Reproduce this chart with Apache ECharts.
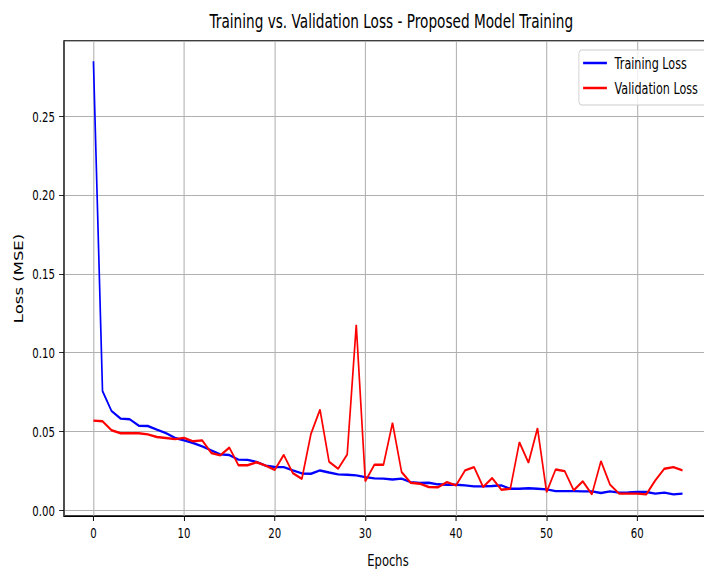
<!DOCTYPE html>
<html>
<head>
<meta charset="utf-8">
<script src="https://cdn.jsdelivr.net/npm/echarts@6/dist/echarts.min.js"></script>
<style>
html,body{margin:0;padding:0;background:#fff;}
#wrap{width:704px;height:569px;overflow:hidden;position:relative;background:#fff;}
/* the reference figure is horizontally compressed (aspect ~0.7); reproduce that */
#chart{width:1020px;height:569px;transform:scaleX(0.7);transform-origin:0 0;position:absolute;left:0;top:0;}
</style>
</head>
<body>
<div id="wrap"><div id="chart"></div></div>
<script>
var epochs = [0,1,2,3,4,5,6,7,8,9,10,11,12,13,14,15,16,17,18,19,20,21,22,23,24,25,26,27,28,29,30,31,32,33,34,35,36,37,38,39,40,41,42,43,44,45,46,47,48,49,50,51,52,53,54,55,56,57,58,59,60,61,62,63,64,65];
var trainingLoss = [0.285,0.0757,0.063,0.0582,0.0578,0.0537,0.0535,0.0512,0.049,0.0459,0.0444,0.0427,0.0406,0.038,0.0355,0.0351,0.0322,0.032,0.0307,0.0284,0.0275,0.0274,0.0253,0.0234,0.0232,0.0253,0.024,0.0228,0.0226,0.0222,0.0211,0.0203,0.0201,0.0196,0.0201,0.0179,0.0173,0.0175,0.0165,0.0162,0.0162,0.0158,0.0152,0.0152,0.0154,0.0158,0.0137,0.0137,0.014,0.0137,0.0133,0.0122,0.0122,0.0122,0.012,0.012,0.011,0.012,0.0112,0.0113,0.0116,0.0116,0.0106,0.0112,0.0101,0.0106];
var validationLoss = [0.0569,0.0565,0.0508,0.0489,0.0489,0.0489,0.0482,0.0465,0.0459,0.0452,0.046,0.0438,0.0444,0.0364,0.0349,0.0398,0.0286,0.0286,0.0305,0.0284,0.0256,0.0352,0.0236,0.02,0.0485,0.0639,0.0308,0.0264,0.0354,0.1177,0.0184,0.0289,0.0289,0.0555,0.0243,0.0175,0.0169,0.0148,0.0146,0.0179,0.0158,0.0253,0.0274,0.0148,0.0205,0.0131,0.0137,0.0432,0.0302,0.0521,0.0116,0.0259,0.0249,0.0127,0.0184,0.0101,0.0312,0.0163,0.0106,0.0106,0.0106,0.0101,0.019,0.0264,0.0274,0.0253];
var seriesNames = ['Training Loss', 'Validation Loss'];
var titleText = 'Training vs. Validation Loss - Proposed Model Training';
var xName = 'Epochs';
var yName = 'Loss (MSE)';

function pairs(vals){ return epochs.map(function(e,i){ return [e, vals[i]]; }); }

var FONT = '"DejaVu Sans",sans-serif';
var chart = echarts.init(document.getElementById('chart'), null, {renderer:'svg'});
chart.setOption({
  backgroundColor:'#fff',
  animation:false,
  title:{
    text:titleText, left:554, top:6, textAlign:'center',
    textStyle:{fontFamily:FONT, fontSize:19.5, fontWeight:'normal', color:'#000'}
  },
  legend:{
    orient:'vertical', left:827, top:50,
    data:[{name:seriesNames[0], icon:'rect'},{name:seriesNames[1], icon:'rect'}],
    itemWidth:34, itemHeight:2.5, itemGap:9, padding:[5,24,9,6],
    borderColor:'#cccccc', borderWidth:1.2, borderRadius:4, backgroundColor:'rgba(255,255,255,0.8)',
    textStyle:{fontFamily:FONT, fontSize:16, color:'#000', padding:[0,0,0,6]}
  },
  grid:{left:91.4, top:41, width:925.7, height:475, outerBoundsMode:'none', containLabel:false,
        show:true, borderColor:'#000', borderWidth:1.3, backgroundColor:'transparent'},
  xAxis:{
    type:'value', min:-3.25, max:68.25, splitNumber:7,
    name:xName, nameLocation:'middle', nameGap:36,
    nameTextStyle:{fontFamily:FONT, fontSize:16.5, color:'#000'},
    axisLine:{show:true, onZero:false, lineStyle:{color:'#000', width:1.2}},
    axisTick:{show:true, length:5, lineStyle:{color:'#000', width:1.4}},
    axisLabel:{showMinLabel:false, showMaxLabel:false, margin:9, fontFamily:FONT, fontSize:14.5, color:'#000'},
    splitLine:{show:true, lineStyle:{color:'#b0b0b0', width:1.5}}
  },
  yAxis:{
    type:'value', min:-0.0036, max:0.2978, splitNumber:6,
    name:yName, nameLocation:'middle', nameGap:56,
    nameTextStyle:{fontFamily:FONT, fontSize:16.5, color:'#000'},
    axisLine:{show:true, onZero:false, lineStyle:{color:'#000', width:1.4}},
    axisTick:{show:true, length:7, lineStyle:{color:'#000', width:1}},
    axisLabel:{showMinLabel:false, showMaxLabel:false, margin:13, fontFamily:FONT, fontSize:14.5, color:'#000',
      formatter:function(v){ return v.toFixed(2); }},
    splitLine:{show:true, lineStyle:{color:'#b0b0b0', width:1.1}}
  },
  series:[
    {name:seriesNames[0], type:'line', data:pairs(trainingLoss), symbol:'none', lineStyle:{color:'#0000ff', width:2.4}, itemStyle:{color:'#0000ff'}},
    {name:seriesNames[1], type:'line', data:pairs(validationLoss), symbol:'none', lineStyle:{color:'#ff0000', width:2.4}, itemStyle:{color:'#ff0000'}}
  ]
});
</script>
</body>
</html>
